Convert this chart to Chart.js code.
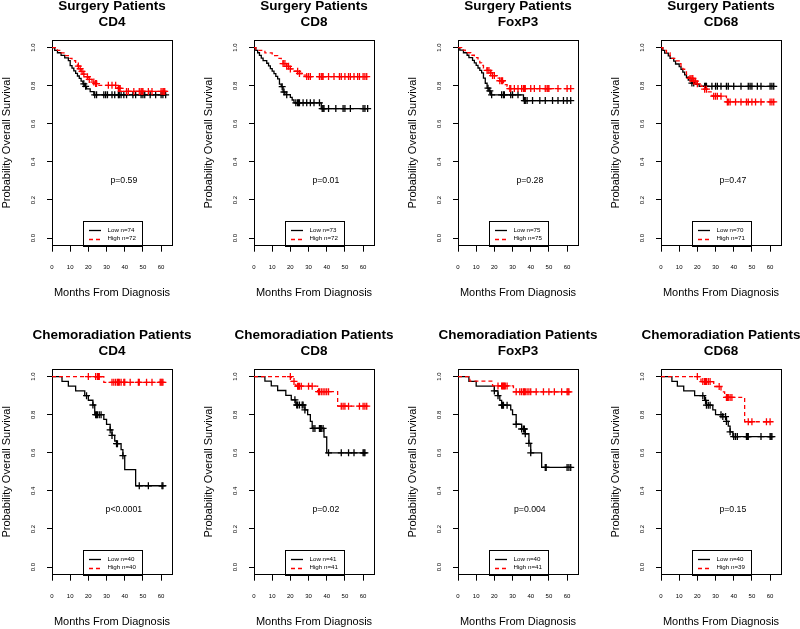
<!DOCTYPE html>
<html>
<head>
<meta charset="utf-8">
<title>Overall survival by marker</title>
<script src="https://cdn.jsdelivr.net/npm/chart.js@4.4.1/dist/chart.umd.min.js"></script>
<style>
  body { margin: 0; background: #fff; overflow: hidden; }
  #wrap { position: relative; width: 800px; height: 629px; overflow: hidden; background: #fff; }
  #wrap canvas { position: absolute; }
</style>
</head>
<body>
<div id="wrap"></div>
<script>
// text bits
var groups = ["Surgery Patients", "Chemoradiation Patients"];
var markers = ["CD4", "CD8", "FoxP3", "CD68"];
var pLabels = ["p=0.59", "p=0.01", "p=0.28", "p=0.47", "p<0.0001", "p=0.02", "p=0.004", "p=0.15"];
var lowN = [74, 73, 75, 70, 40, 41, 40, 40];
var highN = [72, 72, 75, 71, 40, 41, 41, 39];
var xTicks = [0, 10, 20, 30, 40, 50, 60];
var yTicks = [0, 0.2, 0.4, 0.6, 0.8, 1.0];
var pAt = [39.5, 0.3];   // where the p value sits (months, survival)

// KM curves: event times (T), survival after the event (S), censor times (C)
// surgery CD4
var sCD4LowT = [1.5, 3, 5, 7, 9, 10, 11, 12, 13, 14, 15, 16, 17, 18, 19, 21, 23];
var sCD4LowS = [0.986, 0.973, 0.959, 0.946, 0.932, 0.905, 0.892, 0.878, 0.865, 0.851, 0.838, 0.824, 0.81, 0.797, 0.783, 0.769, 0.752];
var sCD4LowC = [17.5, 18.5, 23.5, 24.5, 28.5, 29.5, 30.5, 33, 34.5, 36.5, 37, 38, 39.5, 41, 44.5, 46, 49, 50, 51, 54, 57, 60, 61, 62.5];
var sCD4HighT = [3, 5, 7, 9, 11, 13, 14, 15, 16, 17, 18, 20, 22, 24, 25, 36, 38];
var sCD4HighS = [0.986, 0.972, 0.958, 0.944, 0.931, 0.917, 0.903, 0.889, 0.875, 0.861, 0.847, 0.833, 0.819, 0.811, 0.802, 0.786, 0.77];
var sCD4HighC = [14.5, 15.5, 16.5, 17.5, 19.5, 20.5, 23, 24, 24.5, 31, 33, 35, 36.5, 37, 37.5, 41, 42, 45, 48, 49, 49.5, 50, 53, 55, 60, 61, 61.5, 62];
// surgery CD8
var sCD8LowT = [1, 2, 3, 4, 5, 7, 8, 9, 10, 11, 12, 13, 14, 15, 16, 17, 20, 21, 22, 37];
var sCD8LowS = [0.986, 0.973, 0.959, 0.945, 0.932, 0.918, 0.904, 0.89, 0.877, 0.863, 0.849, 0.836, 0.808, 0.795, 0.767, 0.753, 0.739, 0.725, 0.71, 0.68];
var sCD8LowC = [15.5, 16.5, 18, 23, 24, 24.5, 25, 27, 29, 31, 33, 36, 37.5, 38, 38.5, 41, 45, 49, 50, 53, 60, 61, 62.5];
var sCD8HighT = [1, 6, 10, 13, 15, 16, 18, 20, 22, 25, 27, 29];
var sCD8HighS = [0.986, 0.972, 0.958, 0.944, 0.93, 0.916, 0.902, 0.888, 0.876, 0.864, 0.856, 0.848];
var sCD8HighC = [16, 17, 18, 19, 20, 24, 25, 29, 30, 31, 36, 37, 37.5, 38, 41, 44, 47, 48, 50, 52, 53, 55, 57, 58, 60, 61, 62];
// surgery FoxP3
var sFoxLowT = [1, 3, 5, 6, 8, 9, 10, 11, 12, 13, 14, 15, 16, 17, 18, 36];
var sFoxLowS = [0.987, 0.973, 0.96, 0.947, 0.933, 0.92, 0.907, 0.893, 0.88, 0.867, 0.84, 0.813, 0.787, 0.773, 0.752, 0.722];
var sFoxLowC = [16.5, 17.5, 18.5, 24, 25, 25.5, 29, 30, 33, 36.5, 37, 38, 41, 45, 48, 52, 55, 58, 60, 62];
var sFoxHighT = [2, 4, 7, 9, 11, 12, 13, 14, 16, 18, 19, 21, 23, 25, 26, 27, 28];
var sFoxHighS = [0.987, 0.973, 0.96, 0.947, 0.933, 0.92, 0.907, 0.893, 0.88, 0.867, 0.853, 0.84, 0.826, 0.813, 0.806, 0.796, 0.785];
var sFoxHighC = [16, 17, 18, 19, 20, 23, 24, 24.5, 28.5, 29, 31, 33, 35, 36, 36.5, 37, 40, 42, 45, 48, 49, 49.5, 50, 55, 60, 62];
// surgery CD68
var sCD68LowT = [1, 2, 4, 5, 7, 8, 10, 11, 12, 13, 14, 15, 17, 19, 21];
var sCD68LowS = [0.986, 0.971, 0.957, 0.943, 0.929, 0.914, 0.9, 0.886, 0.871, 0.857, 0.843, 0.829, 0.814, 0.807, 0.797];
var sCD68LowC = [17, 18, 24, 24.5, 25, 28, 30, 31, 33, 36, 37, 40, 44, 48, 49, 50, 53, 55, 60, 61, 62];
var sCD68HighT = [1, 3, 5, 6, 8, 10, 11, 12, 13, 14, 15, 16, 18, 20, 22, 24, 26, 28, 36];
var sCD68HighS = [0.986, 0.972, 0.958, 0.944, 0.93, 0.916, 0.901, 0.887, 0.873, 0.859, 0.845, 0.838, 0.824, 0.81, 0.796, 0.782, 0.768, 0.745, 0.715];
var sCD68HighC = [16, 17, 17.5, 18, 19, 20, 24, 25, 29, 30, 31, 33, 36.5, 37, 38, 41, 44, 47, 48, 50, 52, 55, 60, 61, 62];
// chemoradiation CD4
var cCD4LowT = [5.5, 9, 13, 18, 20, 22.5, 23.5, 28.5, 30, 32, 33, 34.5, 35.5, 38, 39, 40, 46];
var cCD4LowS = [0.975, 0.95, 0.925, 0.9, 0.876, 0.851, 0.8, 0.775, 0.749, 0.72, 0.691, 0.662, 0.648, 0.617, 0.585, 0.512, 0.427];
var cCD4LowC = [19, 22.5, 24, 24.5, 25, 26, 27, 32, 33, 35.5, 36, 39, 48, 53, 60.5, 61];
var cCD4HighT = [28.5];
var cCD4HighS = [0.97];
var cCD4HighC = [20, 24, 25, 25.5, 26, 33, 34, 35, 36, 36.5, 37, 38, 39.5, 40, 43, 47.5, 48, 52, 55, 59.5, 60, 60.5, 61];
// chemoradiation CD8
var cCD8LowT = [6, 9.5, 13, 17.5, 20.5, 23, 28, 29.5, 31, 32, 38.5, 40];
var cCD8LowS = [0.976, 0.951, 0.927, 0.902, 0.878, 0.851, 0.825, 0.8, 0.765, 0.728, 0.683, 0.6];
var cCD8LowC = [22.5, 23.5, 24, 25, 26.5, 27, 28, 32.5, 33.5, 36, 36.5, 37, 38, 41, 48, 52, 55, 60, 60.5, 61];
var cCD8HighT = [20.5, 23, 35, 46];
var cCD8HighS = [0.975, 0.95, 0.921, 0.845];
var cCD8HighC = [20, 22, 24, 24.5, 25, 26, 30, 32, 35.5, 36, 37, 38, 39, 40, 41, 48, 49, 50, 52, 58, 60, 61, 62];
// chemoradiation FoxP3
var cFoxLowT = [6, 10, 20, 22, 23, 24, 29, 30, 32, 35, 37, 39, 40, 46];
var cFoxLowS = [0.975, 0.95, 0.925, 0.9, 0.875, 0.85, 0.825, 0.8, 0.75, 0.725, 0.7, 0.65, 0.6, 0.523];
var cFoxLowC = [20, 22, 24, 24.5, 25, 27, 32, 35, 36, 36.5, 37, 39, 40, 48, 48.5, 60, 61, 62];
var cFoxHighT = [6.5, 19, 30.5];
var cFoxHighS = [0.976, 0.951, 0.92];
var cFoxHighC = [22, 24, 24.5, 25, 25.5, 26, 27, 32, 34, 35, 36, 36.5, 37, 38, 39, 40, 43, 47, 50, 53, 57, 60, 60.5, 61];
// chemoradiation CD68
var cCD68LowT = [6, 9, 12.5, 18.5, 24, 25, 28.5, 30, 34, 36, 37, 38, 39.5];
var cCD68LowS = [0.975, 0.95, 0.925, 0.9, 0.875, 0.85, 0.825, 0.8, 0.79, 0.765, 0.74, 0.71, 0.685];
var cCD68LowC = [23, 24.5, 25, 26, 27, 33, 34, 35.5, 36, 38, 40, 41, 42, 47, 47.5, 48, 55, 60, 60.5, 61];
var cCD68HighT = [22, 29, 33, 35, 46];
var cCD68HighS = [0.974, 0.948, 0.92, 0.891, 0.763];
var cCD68HighC = [20, 23, 24, 24.5, 25, 26, 27, 32, 36, 36.5, 37, 38, 39, 48, 50, 58, 60];

var panels = [
  [[sCD4LowT, sCD4LowS, sCD4LowC], [sCD4HighT, sCD4HighS, sCD4HighC]],
  [[sCD8LowT, sCD8LowS, sCD8LowC], [sCD8HighT, sCD8HighS, sCD8HighC]],
  [[sFoxLowT, sFoxLowS, sFoxLowC], [sFoxHighT, sFoxHighS, sFoxHighC]],
  [[sCD68LowT, sCD68LowS, sCD68LowC], [sCD68HighT, sCD68HighS, sCD68HighC]],
  [[cCD4LowT, cCD4LowS, cCD4LowC], [cCD4HighT, cCD4HighS, cCD4HighC]],
  [[cCD8LowT, cCD8LowS, cCD8LowC], [cCD8HighT, cCD8HighS, cCD8HighC]],
  [[cFoxLowT, cFoxLowS, cFoxLowC], [cFoxHighT, cFoxHighS, cFoxHighC]],
  [[cCD68LowT, cCD68LowS, cCD68LowC], [cCD68HighT, cCD68HighS, cCD68HighC]]
];

// page layout (plot box positions in the 800x629 picture)
var boxLeft = [52, 254, 458, 661];
var boxTop = [40, 369];
var CW = 224, CH = 305;     // canvas size
var PADL = 52, PADT = 44;   // plot box offset inside a canvas
var BOXH = 205.7;
var FONT = '"Liberation Sans", Arial, Helvetica, sans-serif';
var TITLE_SIZE = 13.5, TITLE_LH = 1.22, TITLE_PAD = 1.6;

function survAt(T, S, t) {
  var s = 1;
  for (var i = 0; i < T.length; i++) { if (T[i] <= t) s = S[i]; }
  return s;
}
function stepPoints(T, S, C) {
  var pts = [{x: 0, y: 1}];
  for (var i = 0; i < T.length; i++) pts.push({x: T[i], y: S[i]});
  var end = Math.max(T[T.length - 1], C[C.length - 1]);
  pts.push({x: end, y: S[S.length - 1]});
  return pts;
}
function censorPoints(T, S, C) {
  return C.map(function (t) { return {x: t, y: survAt(T, S, t)}; });
}

// rotated y labels, p value and the boxed legend, R style
var kmDecor = {
  id: 'kmDecor',
  afterDraw: function (chart, args, opts) {
    var ctx = chart.ctx, xs = chart.scales.x, ys = chart.scales.y, a = chart.chartArea;
    ctx.save();
    ctx.fillStyle = '#000';
    ctx.textAlign = 'center';
    ctx.textBaseline = 'middle';
    ctx.font = '6px ' + FONT;
    ys.ticks.forEach(function (t) {
      ctx.save();
      ctx.translate(a.left - 19, ys.getPixelForValue(t.value));
      ctx.rotate(-Math.PI / 2);
      ctx.fillText(t.value.toFixed(1), 0, 0);
      ctx.restore();
    });

    ctx.font = '8.7px ' + FONT;
    ctx.fillText(opts.p, xs.getPixelForValue(pAt[0]), ys.getPixelForValue(pAt[1]));

    ctx.font = '6.2px ' + FONT;
    var items = chart.data.datasets.filter(function (d) { return d.inLegend; });
    var tw = 0;
    items.forEach(function (d) { tw = Math.max(tw, ctx.measureText(d.label).width); });
    var w = Math.round(24.5 + tw + 6), h = 25;
    var lx = Math.round((a.left + a.right) / 2 - w / 2), ly = Math.round(a.bottom - h);
    ctx.strokeStyle = '#000';
    ctx.lineWidth = 1;
    ctx.strokeRect(lx + 0.5, ly + 0.5, w, h);
    items.forEach(function (d, i) {
      var yy = ly + 9.3 + i * 8.3;
      ctx.strokeStyle = d.borderColor;
      ctx.lineWidth = d.borderWidth;
      ctx.setLineDash(d.borderDash || []);
      ctx.beginPath();
      ctx.moveTo(lx + 6, Math.round(yy) + 0.5);
      ctx.lineTo(lx + 18, Math.round(yy) + 0.5);
      ctx.stroke();
      ctx.setLineDash([]);
      ctx.textAlign = 'left';
      ctx.fillText(d.label, lx + 24.5, yy);
    });
    ctx.restore();
  }
};

var wrap = document.getElementById('wrap');

panels.forEach(function (pan, k) {
  var r = Math.floor(k / 4), c = k % 4;
  var cv = document.createElement('canvas');
  cv.width = CW;
  cv.height = CH;
  cv.style.left = (boxLeft[c] - PADL) + 'px';
  cv.style.top = (boxTop[r] - PADT) + 'px';
  wrap.appendChild(cv);

  var low = pan[0], high = pan[1];
  var titleH = TITLE_PAD + 2 * TITLE_SIZE * TITLE_LH;

  new Chart(cv, {
    type: 'line',
    data: {
      datasets: [
        {label: 'Low n=' + lowN[k], inLegend: true, data: stepPoints(low[0], low[1], low[2]),
          borderColor: '#000', borderWidth: 1.3, pointRadius: 0, stepped: true, fill: false, order: 1},
        {label: 'High n=' + highN[k], inLegend: true, data: stepPoints(high[0], high[1], high[2]),
          borderColor: '#ff0000', borderWidth: 1.3, borderDash: [4, 3], pointRadius: 0, stepped: true, fill: false, order: 0},
        {label: 'Low censored', data: censorPoints(low[0], low[1], low[2]), showLine: false,
          pointStyle: 'cross', pointRadius: 3.5, pointBorderWidth: 1.3, pointBorderColor: '#000', borderColor: '#000', order: 1},
        {label: 'High censored', data: censorPoints(high[0], high[1], high[2]), showLine: false,
          pointStyle: 'cross', pointRadius: 3.5, pointBorderWidth: 1.3, pointBorderColor: '#ff0000', borderColor: '#ff0000', order: 0}
      ]
    },
    options: {
      responsive: false,
      animation: false,
      events: [],
      layout: {padding: 0},
      plugins: {
        legend: {display: false},
        tooltip: {enabled: false},
        title: {
          display: true,
          text: [groups[r], markers[c]],
          color: '#000',
          font: {family: FONT, size: TITLE_SIZE, weight: 'bold', lineHeight: TITLE_LH},
          padding: {top: TITLE_PAD, bottom: 0}
        },
        kmDecor: {p: pLabels[k]}
      },
      scales: {
        x: {
          type: 'linear', position: 'bottom', min: 0, max: 66,
          afterBuildTicks: function (s) { s.ticks = xTicks.map(function (v) { return {value: v}; }); },
          afterFit: function (s) { s.height = CH - PADT - BOXH; },
          grid: {display: true, drawOnChartArea: false, drawTicks: true, tickLength: 6, color: '#000'},
          border: {display: true, color: '#000'},
          ticks: {autoSkip: false, maxRotation: 0, padding: 12, color: '#000', font: {family: FONT, size: 6}},
          title: {display: true, text: 'Months From Diagnosis', color: '#000',
            font: {family: FONT, size: 11}, padding: {top: 0, bottom: 1.4}}
        },
        y: {
          type: 'linear', position: 'left', min: -0.04, max: 1.04,
          afterBuildTicks: function (s) { s.ticks = yTicks.map(function (v) { return {value: v}; }); },
          afterFit: function (s) { s.width = PADL; },
          grid: {display: true, drawOnChartArea: false, drawTicks: true, tickLength: 5, color: '#000'},
          border: {display: true, color: '#000'},
          ticks: {display: false},
          title: {display: true, text: 'Probability Overall Survival', color: '#000',
            font: {family: FONT, size: 11}, padding: 0}
        },
        x2: {
          type: 'linear', position: 'top',
          afterFit: function (s) { s.height = PADT - titleH; },
          grid: {display: false}, ticks: {display: false},
          border: {display: true, color: '#000'}
        },
        y2: {
          type: 'linear', position: 'right',
          afterFit: function (s) { s.width = CW - PADL - 120; },
          grid: {display: false}, ticks: {display: false},
          border: {display: true, color: '#000'}
        }
      }
    },
    plugins: [kmDecor]
  });
});
</script>
</body>
</html>
